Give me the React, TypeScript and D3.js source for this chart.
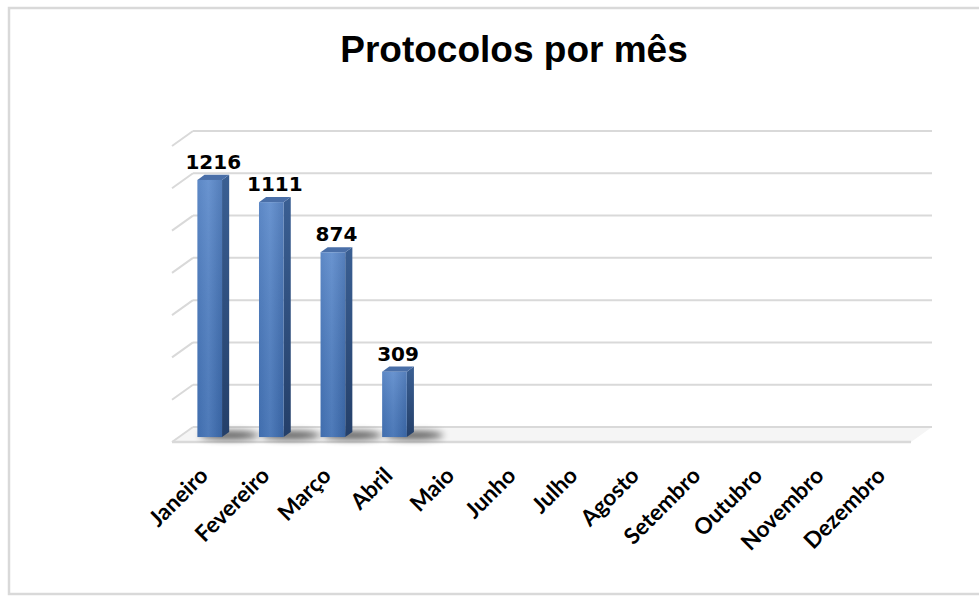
import React, { useEffect } from 'react';
import * as d3 from 'd3';

const months = ['Janeiro', 'Fevereiro', 'Março', 'Abril', 'Maio', 'Junho', 'Julho', 'Agosto', 'Setembro', 'Outubro', 'Novembro', 'Dezembro'];
const protocolos: (number | null)[] = [1216, 1111, 874, 309, null, null, null, null, null, null, null, null];
const yTicks = [0, 200, 400, 600, 800, 1000, 1200, 1400];

const W = 979;
const H = 596;
// back wall of the 3d plot
const wallLeft = 193;
const wallRight = 932;
const wallTop = 131;
const wallBottom = 427;
// oblique depth (front edge of floor relative to back wall)
const depthX = -21;
const depthY = 15;

const App: React.FC = () => {
  useEffect(() => {
    document.body.style.margin = '0';
  }, []);

  const x = d3.scaleBand<string>()
    .domain(months)
    .range([wallLeft, wallRight])
    .paddingInner(0.6)
    .paddingOuter(0.3);

  const y = d3.scaleLinear().domain([0, 1400]).range([wallBottom, wallTop]);

  // bars sit between 1/3 and 2/3 of the depth
  const fX = depthX * 0.67, fY = depthY * 0.67;
  const bX = depthX * 0.33, bY = depthY * 0.33;
  const sideW = fX - bX; // negative -> back is to the right
  const sideH = fY - bY;

  const bars = months
    .map((m, i) => ({ m, v: protocolos[i] }))
    .filter(d => d.v !== null) as { m: string; v: number }[];

  return (
    <svg width={W} height={H} style={{ position: 'absolute', left: 0, top: 0, fontFamily: 'Liberation Sans, Arial, sans-serif' }}>
      <defs>
        <linearGradient id="frontGrad" x1="0" y1="0" x2="1" y2="0">
          <stop offset="0%" stopColor="#4677bd" />
          <stop offset="45%" stopColor="#5585c9" />
          <stop offset="100%" stopColor="#3d6cb0" />
        </linearGradient>
        <linearGradient id="frontShade" x1="0" y1="0" x2="0" y2="1">
          <stop offset="0%" stopColor="#ffffff" stopOpacity={0.12} />
          <stop offset="100%" stopColor="#000000" stopOpacity={0.08} />
        </linearGradient>
        <linearGradient id="sideGrad" x1="0" y1="0" x2="0" y2="1">
          <stop offset="0%" stopColor="#3a5f93" />
          <stop offset="100%" stopColor="#243f69" />
        </linearGradient>
        <filter id="shadowBlur" x="-50%" y="-100%" width="200%" height="300%">
          <feGaussianBlur stdDeviation="3.5" />
        </filter>
      </defs>

      {/* chart border */}
      <rect x={9} y={8} width={985} height={586} fill="#fff" stroke="#d9d9d9" strokeWidth={2.5} />

      <text x={514} y={62} textAnchor="middle" fontSize={37} fontWeight="bold" fill="#000">
        Protocolos por mês
      </text>

      {/* floor */}
      <path
        d={`M${wallLeft},${wallBottom}L${wallRight},${wallBottom}L${wallRight + depthX},${wallBottom + depthY}L${wallLeft + depthX},${wallBottom + depthY}Z`}
        fill="#f5f5f5"
      />
      <line x1={wallLeft + depthX} x2={wallRight + depthX} y1={wallBottom + depthY} y2={wallBottom + depthY} stroke="#d9d9d9" strokeWidth={2.5} />

      {/* gridlines on back wall and side wall */}
      {yTicks.map(t => (
        <g key={t}>
          <line x1={wallLeft} x2={wallRight} y1={y(t)} y2={y(t)} stroke="#d9d9d9" strokeWidth={2} />
          <line x1={wallLeft + depthX} x2={wallLeft} y1={y(t) + depthY} y2={y(t)} stroke="#d9d9d9" strokeWidth={2} />
        </g>
      ))}

      {/* shadows on the floor */}
      {bars.map(d => {
        const x0 = (x(d.m) as number) + bX;
        return (
          <ellipse key={'s' + d.m} cx={x0 + x.bandwidth() * 1.0} cy={wallBottom + depthY * 0.55} rx={x.bandwidth() * 1.2} ry={4}
            fill="#000" opacity={0.65} filter="url(#shadowBlur)" />
        );
      })}

      {/* bars */}
      {bars.map(d => {
        const bx = x(d.m) as number;
        const w = x.bandwidth();
        const x0 = bx + fX;
        const x1 = x0 + w;
        const yt = y(d.v) + fY;
        const yb = y(0) + fY;
        const top = `M${x0},${yt}L${x1},${yt}L${x1 - sideW},${yt - sideH}L${x0 - sideW},${yt - sideH}Z`;
        const side = `M${x1},${yt}L${x1 - sideW},${yt - sideH}L${x1 - sideW},${yb - sideH}L${x1},${yb}Z`;
        return (
          <g key={d.m}>
            <path d={side} fill="url(#sideGrad)" />
            <path d={top} fill="#4a6fa8" />
            <rect x={x0} y={yt} width={w} height={yb - yt} fill="url(#frontGrad)" />
            <rect x={x0} y={yt} width={w} height={yb - yt} fill="url(#frontShade)" />
            <text x={x0 + (w - sideW) / 2} y={yt - 11} textAnchor="middle" fontFamily="DejaVu Sans, sans-serif"
              fontWeight="bold" fontSize={20} fill="#000">
              {d.v}
            </text>
          </g>
        );
      })}

      {/* category labels */}
      {months.map(m => {
        const cx = (x(m) as number) + fX + (x.bandwidth() - (fX - bX)) / 2;
        const lx = cx - 4;
        const ly = 477;
        return (
          <text key={'l' + m} x={lx} y={ly} transform={`rotate(-45,${lx},${ly})`} textAnchor="end"
            fontFamily="Lato, sans-serif" fontWeight="bold" fontSize={22.5} fill="#000">
            {m}
          </text>
        );
      })}
    </svg>
  );
};

export default App;
